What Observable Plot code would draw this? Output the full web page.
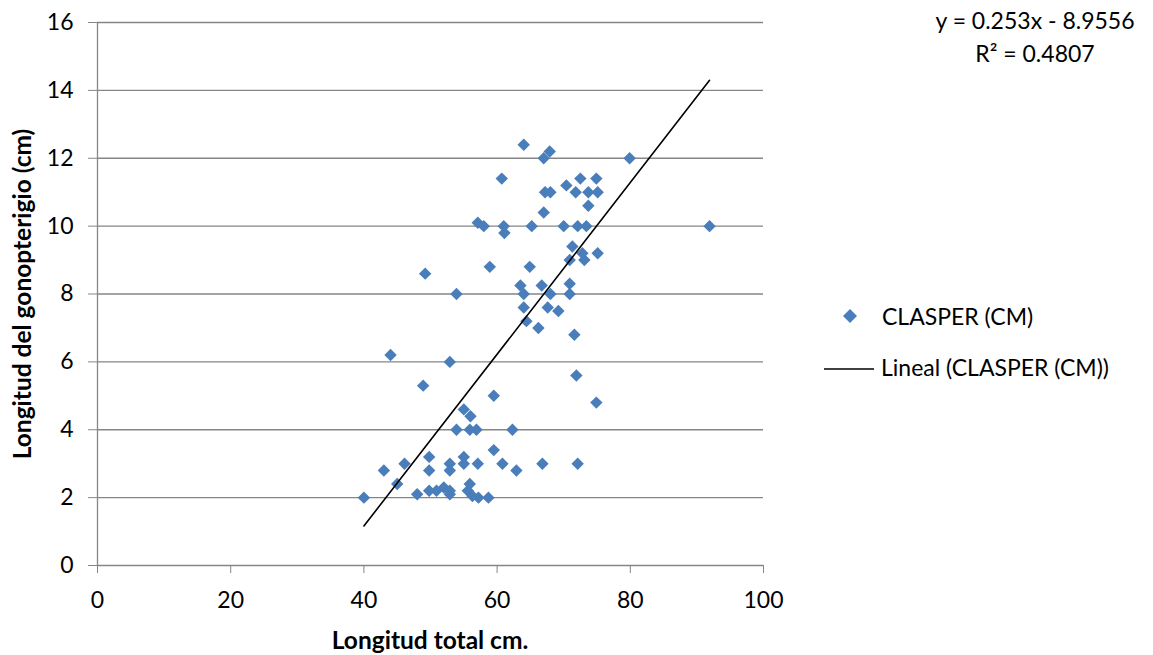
<!DOCTYPE html>
<html>
<head>
<meta charset="utf-8">
<script src="https://cdn.jsdelivr.net/npm/d3@7"></script>
<script src="https://cdn.jsdelivr.net/npm/@observablehq/plot@0.6"></script>
<style>
  html, body { margin: 0; padding: 0; background: #fff; }
  #wrap { position: relative; width: 1153px; height: 655px; font-family: Lato, "Open Sans", sans-serif; color: #000; }
  .ov { position: absolute; white-space: nowrap; font-size: 23px; line-height: 1; }
  .ov svg { display: block; }
</style>
</head>
<body>
<div id="wrap"></div>
<script>
// Longitud total (cm)
const total = [40, 43, 44, 45, 46.1, 48, 49.2, 48.9, 49.8, 49.8, 49.8, 50.9, 52, 52.9, 52.9, 52.9, 52.9, 52.9,
  53.9, 53.9, 55, 55, 55, 56, 55.9, 55.6, 55.9, 56.3, 57.2, 56.9, 57.1, 57.1, 58, 58.7, 58.9, 59.5, 59.5,
  60.7, 61, 61.1, 60.8, 62.3, 62.9, 63.5, 64, 64, 64, 64.4, 64.9, 65.2, 66.2, 66.7, 67, 66.8, 67, 67.2,
  67.6, 68, 67.9, 68, 69.2, 70, 70.4, 70.9, 70.9, 70.9, 71.3, 71.6, 71.9, 72.1, 71.8, 72.1, 72.5, 72.8,
  73.1, 73.4, 73.7, 73.7, 74.9, 75.1, 74.9, 75.1, 79.9, 91.9];
// CLASPER (cm)
const clasper = [2.0, 2.8, 6.2, 2.4, 3.0, 2.1, 8.6, 5.3, 3.2, 2.8, 2.2, 2.2, 2.3, 2.2, 2.1, 2.8, 3.0, 6.0,
  8.0, 4.0, 4.6, 3.2, 3.0, 4.4, 4.0, 2.2, 2.4, 2.05, 2.0, 4.0, 3.0, 10.1, 10.0, 2.0, 8.8, 5.0, 3.4,
  11.4, 10.0, 9.8, 3.0, 4.0, 2.8, 8.25, 8.0, 12.4, 7.6, 7.2, 8.8, 10.0, 7.0, 8.25, 10.4, 3.0, 12.0, 11.0,
  7.6, 8.0, 12.2, 11.0, 7.5, 10.0, 11.2, 9.0, 8.3, 8.0, 9.4, 6.8, 5.6, 3.0, 11.0, 10.0, 11.4, 9.2,
  9.0, 10.0, 11.0, 10.6, 11.4, 11.0, 4.8, 9.2, 12.0, 10.0];
const xTicks = [0, 20, 40, 60, 80, 100];
const yTicks = [0, 2, 4, 6, 8, 10, 12, 14, 16];
// Línea de tendencia mostrada en el gráfico
const slope = 0.253;
const intercept = -8.9556;
const r2 = 0.4807;

const points = total.map((t, i) => ({ x: t, y: clasper[i] }));
const ext = d3.extent(total);
const trend = ext.map(x => ({ x, y: slope * x + intercept }));

const blue = "#4a7ebb";
const grey = "#868686";

const chart = Plot.plot({
  width: 1153, height: 655,
  marginLeft: 97, marginRight: 390, marginTop: 22, marginBottom: 90,
  style: { fontFamily: "Lato, 'Open Sans', sans-serif", fontSize: "23px", color: "#000", background: "#fff" },
  x: { domain: [0, 100] },
  y: { domain: [0, 16] },
  marks: [
    Plot.ruleY(yTicks.filter(d => d > 0), { stroke: grey, strokeWidth: 1.3 }),
    Plot.ruleY([0], { stroke: grey, strokeWidth: 1.3 }),
    Plot.ruleX([0], { stroke: grey, strokeWidth: 1.3 }),
    Plot.axisX({ ticks: xTicks, tickSize: 8, tickPadding: 18, stroke: grey, fill: "#000", label: null, tickFormat: d3.format("d") }),
    Plot.axisY({ ticks: yTicks, tickSize: 9, tickPadding: 15, stroke: grey, fill: "#000", label: null, tickFormat: d3.format("d") }),
    Plot.dot(points, { x: "x", y: "y", symbol: "diamond2", r: 5.6, fill: blue, stroke: null }),
    Plot.line(trend, { x: "x", y: "y", stroke: "#000", strokeWidth: 1.6 })
  ]
});
const wrap = document.getElementById("wrap");
wrap.appendChild(chart);

function ov(html, css) {
  const d = document.createElement("div");
  d.className = "ov";
  d.innerHTML = html;
  Object.assign(d.style, css);
  wrap.appendChild(d);
  return d;
}
// axis titles
ov("Longitud total cm.", { left: "430px", top: "640px", transform: "translate(-50%,-50%)", fontWeight: "bold", fontSize: "24.5px" });
ov("Longitud del gonopterigio (cm)", { left: "22px", top: "294px", transform: "translate(-50%,-50%) rotate(-90deg)", fontWeight: "bold", fontSize: "24.5px" });
// equation
ov(`y = ${slope}x - ${Math.abs(intercept)}`, { left: "1035px", top: "20px", transform: "translate(-50%,-50%)" });
ov(`R² = ${r2}`, { left: "1035px", top: "53px", transform: "translate(-50%,-50%)" });
// legend
const diamond = `<svg width="16" height="16"><path d="M8,1L15,8L8,15L1,8Z" fill="${blue}"/></svg>`;
ov(diamond, { left: "842px", top: "308px" });
ov("CLASPER (CM)", { left: "882px", top: "316px", transform: "translateY(-50%)" });
ov(`<svg width="50" height="4"><line x1="0" y1="2" x2="50" y2="2" stroke="#000" stroke-width="1.6"/></svg>`, { left: "824px", top: "367px" });
ov("Lineal (CLASPER (CM))", { left: "881px", top: "367px", transform: "translateY(-50%)" });
</script>
</body>
</html>
